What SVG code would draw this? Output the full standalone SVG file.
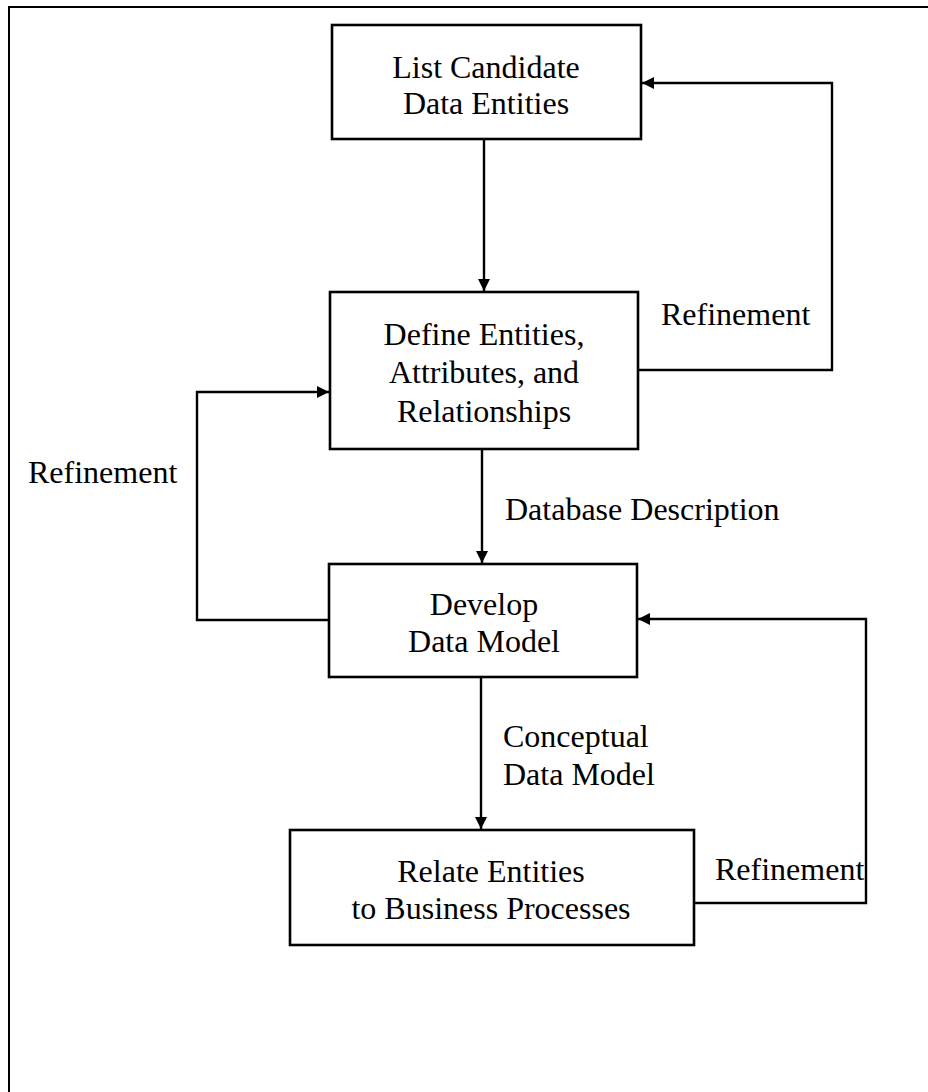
<svg xmlns="http://www.w3.org/2000/svg" width="928" height="1092" viewBox="0 0 928 1092">
<style>
.box{fill:#fff;stroke:#000;stroke-width:2.6}
.t{font-family:"Liberation Serif","Times New Roman",serif;font-size:32px;fill:#000}
.m{text-anchor:middle}
.c{fill:none;stroke:#000;stroke-width:2.4}
.frame{fill:none;stroke:#000;stroke-width:2}
</style>
<defs>
<marker id="ah" viewBox="0 0 10 10" refX="10" refY="5" markerWidth="12" markerHeight="12" markerUnits="userSpaceOnUse" orient="auto">
<path d="M0,0 L10,5 L0,10 z" fill="#000"/>
</marker>
</defs>
<g id="frame"><path class="frame" d="M9,1092 V7 H928"/></g>
<g id="n1"><rect class="box" x="332" y="25" width="309" height="114"/>
<text class="t m" x="486" y="78">List Candidate</text>
<text class="t m" x="486" y="114">Data Entities</text></g>
<g id="n2"><rect class="box" x="330" y="292" width="308" height="157"/>
<text class="t m" x="484" y="345">Define Entities,</text>
<text class="t m" x="484" y="383">Attributes, and</text>
<text class="t m" x="484" y="422">Relationships</text></g>
<g id="n3"><rect class="box" x="329" y="564" width="308" height="113"/>
<text class="t m" x="484" y="615">Develop</text>
<text class="t m" x="484" y="652">Data Model</text></g>
<g id="n4"><rect class="box" x="290" y="830" width="404" height="115"/>
<text class="t m" x="491" y="882">Relate Entities</text>
<text class="t m" x="491" y="919">to Business Processes</text></g>
<g id="connectors">
<path class="c" d="M484,139 V291" marker-end="url(#ah)"/>
<path class="c" d="M482,449 V563" marker-end="url(#ah)"/>
<path class="c" d="M481,677 V829" marker-end="url(#ah)"/>
<path class="c" d="M638,370 H832 V83 H642" marker-end="url(#ah)"/>
<path class="c" d="M329,620 H197 V392 H329" marker-end="url(#ah)"/>
<path class="c" d="M694,903 H866 V619 H638" marker-end="url(#ah)"/>
</g>
<g id="labels">
<text class="t" x="505" y="520">Database Description</text>
<text class="t" x="503" y="747">Conceptual</text>
<text class="t" x="503" y="785">Data Model</text>
<text class="t" x="28" y="483">Refinement</text>
<text class="t" x="661" y="325">Refinement</text>
<text class="t" x="715" y="880">Refinement</text>
</g>
</svg>
